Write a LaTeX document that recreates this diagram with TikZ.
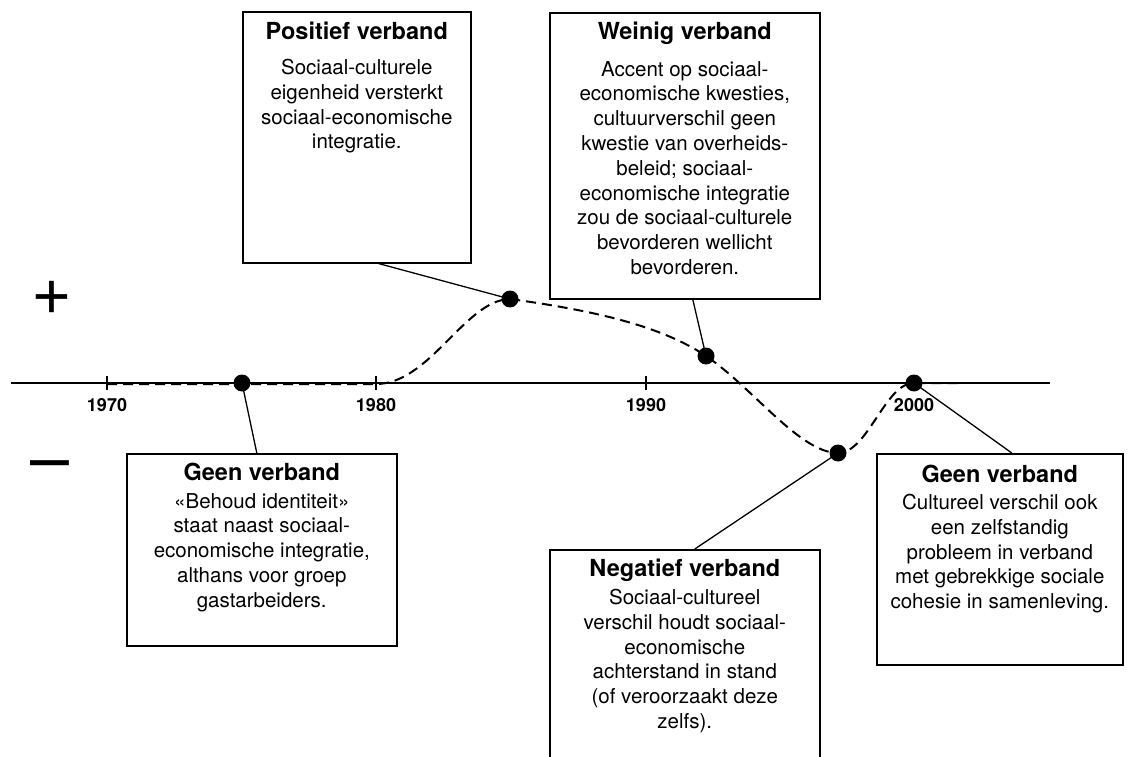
\documentclass[tikz,border=0pt]{standalone}
\usepackage{fontspec}
\setmainfont{TeX Gyre Heros}
\usetikzlibrary{positioning}
\tikzset{
  kader/.style={draw, line width=1.6pt, inner sep=0pt, anchor=north west},
  kop/.style={inner sep=0pt, font=\fontsize{23.5}{27}\selectfont\bfseries},
  tekst/.style={inner sep=0pt, align=center, font=\fontsize{20.5}{24.8}\selectfont},
  jaartal/.style={inner sep=0pt, font=\fontsize{18}{20}\selectfont\bfseries},
  stip/.style={circle, fill=black, inner sep=0pt, minimum size=17pt},
  lijn/.style={line width=1.3pt},
  stippel/.style={line width=2pt, dash pattern=on 10pt off 6pt},
  teken/.style={inner sep=0pt, font=\fontsize{70}{70}\selectfont}
}
\begin{document}
\begin{tikzpicture}[x=1pt, y=-1pt]
            \path[use as bounding box, clip] (0,0) rectangle (1136,757);
            \draw[line width=1.6pt] (11,383) -- (1050,383);
            \foreach \jaar/\x in {1970/107,1980/376,1990/646,2000/914} {
                \draw[lijn] (\x,376) -- (\x,390);
                \node[jaartal] (j\jaar) at (\x,405) {\jaar};
            }
            \node[teken] (plus) at (52,298) {+};
            \node[teken] (min) at (50,472) {–};
            \node[stip] (s1) at (242,383) {};
            \node[stip] (s2) at (510,299) {};
            \node[stip] (s3) at (706,356) {};
            \node[stip] (s4) at (838,453) {};
            \node[stip] (s5) at (914,383) {};
            \draw[stippel] (107,384) -- (376,384) .. controls (430,384) and (465,300) .. (s2.center)
                .. controls (590,310) and (660,325) .. (s3.center)
                .. controls (752,387) and (800,453) .. (s4.center)
                .. controls (868,453) and (885,383) .. (s5.center) -- (960,383);
            \node[kader, minimum width=228pt, minimum height=251pt] (pos) at (242,11) {};
            \node[kop, below=11pt of pos.north] (posk) {Positief verband};
            \node[tekst, below=48pt of pos.north] (posb) {Sociaal-culturele\\eigenheid versterkt\\sociaal-economische\\integratie.};
            \node[kader, minimum width=270pt, minimum height=286pt] (wei) at (549,12) {};
            \node[kop, below=10pt of wei.north] (weik) {Weinig verband};
            \node[tekst, below=49pt of wei.north] (weib) {Accent op sociaal-\\economische kwesties,\\cultuurverschil geen\\kwestie van overheids-\\beleid; sociaal-\\economische integratie\\zou de sociaal-culturele\\bevorderen wellicht\\bevorderen.};
            \node[kader, minimum width=270pt, minimum height=192pt] (geen) at (126,453) {};
            \node[kop, below=10pt of geen.north] (geenk) {Geen verband};
            \node[tekst, below=40pt of geen.north] (geenb) {«Behoud identiteit»\\staat naast sociaal-\\economische integratie,\\althans voor groep\\gastarbeiders.};
            \node[kader, minimum width=270pt, minimum height=230pt] (neg) at (549,549) {};
            \node[kop, below=10pt of neg.north] (negk) {Negatief verband};
            \node[tekst, below=40pt of neg.north] (negb) {Sociaal-cultureel\\verschil houdt sociaal-\\economische\\achterstand in stand\\(of veroorzaakt deze\\zelfs).};
            \node[kader, minimum width=246pt, minimum height=211pt] (cult) at (876,453) {};
            \node[kop, below=12pt of cult.north] (cultk) {Geen verband};
            \node[tekst, below=41pt of cult.north] (cultb) {Cultureel verschil ook\\een zelfstandig\\probleem in verband\\met gebrekkige sociale\\cohesie in samenleving.};
            \draw[lijn] ([xshift=22pt]pos.south) -- (s2.center);
            \draw[lijn] ([xshift=8pt]wei.south) -- (s3.center);
            \draw[lijn] ([xshift=-5pt]geen.north) -- (s1.center);
            \draw[lijn] ([xshift=10pt]neg.north) -- (s4.center);
            \draw[lijn] ([xshift=12pt]cult.north) -- (s5.center);
        \end{tikzpicture}
\end{document}
